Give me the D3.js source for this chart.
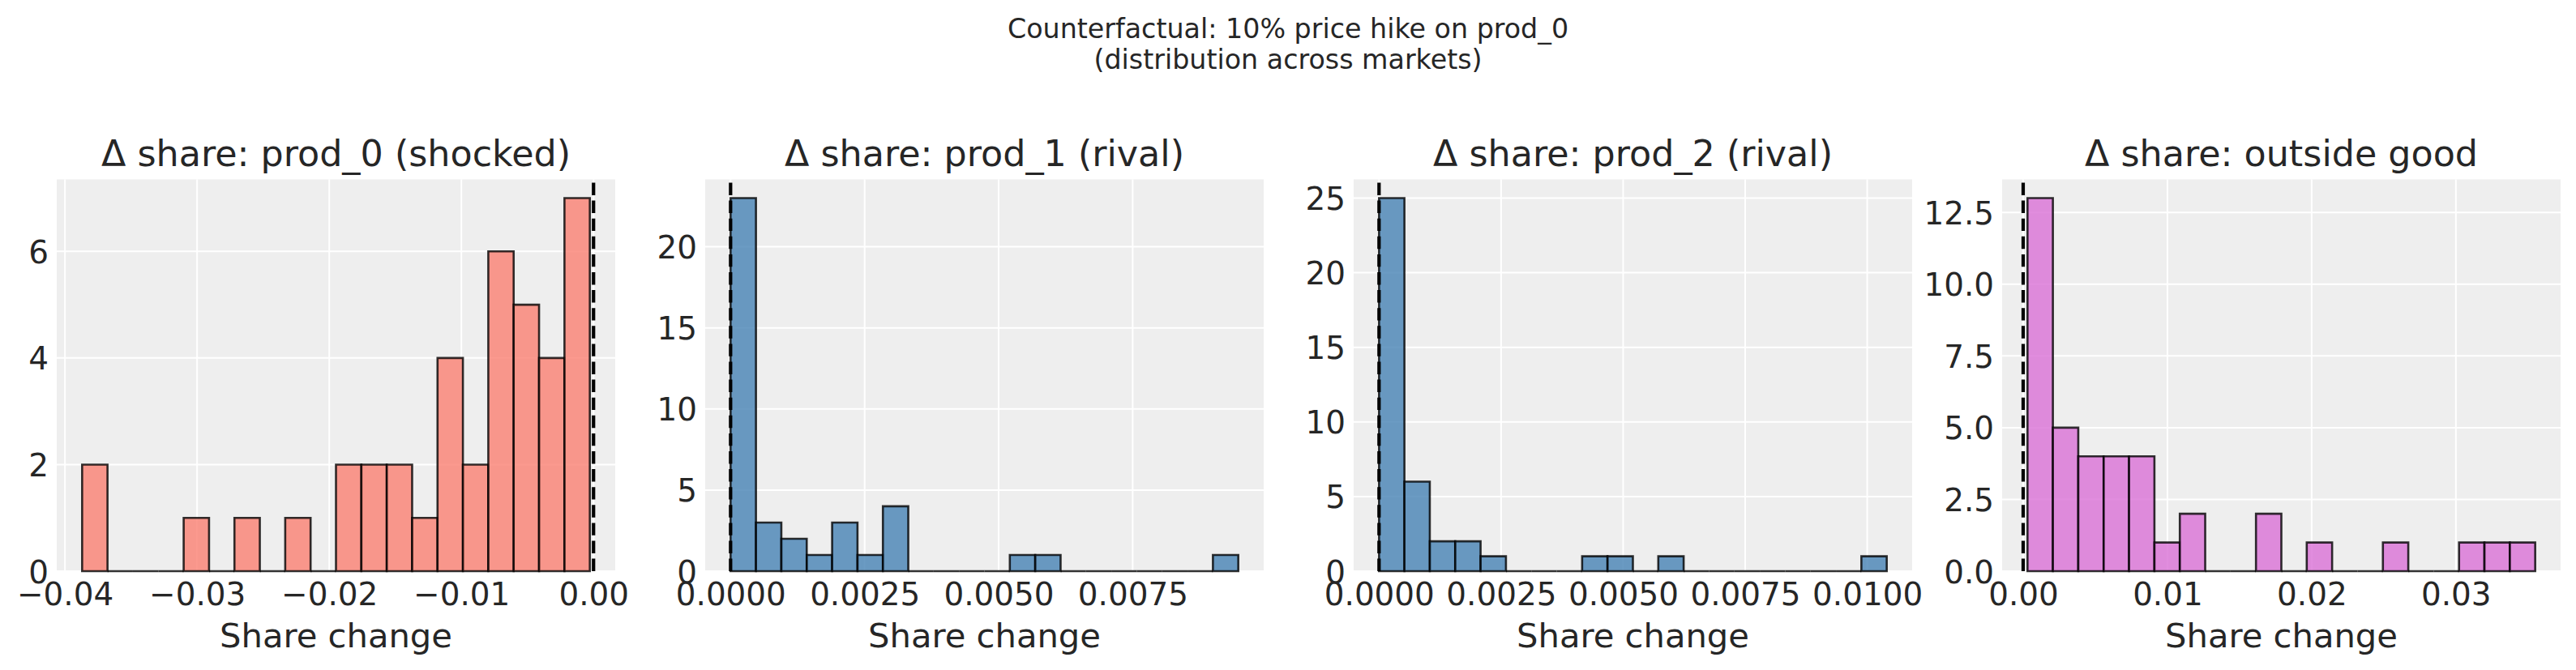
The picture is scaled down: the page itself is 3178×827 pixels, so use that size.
<!DOCTYPE html>
<html>
<head>
<meta charset="utf-8">
<script src="https://cdn.jsdelivr.net/npm/d3@7"></script>
<style>
  body { margin: 0; background: #fff; }
  text { font-family: "DejaVu Sans", sans-serif; fill: #262626; }
</style>
</head>
<body>
<svg id="chart"></svg>
<script>
// Figure text
var suptitle = ["Counterfactual: 10% price hike on prod_0", "(distribution across markets)"];
var titles = ["\u0394 share: prod_0 (shocked)", "\u0394 share: prod_1 (rival)",
              "\u0394 share: prod_2 (rival)", "\u0394 share: outside good"];
var xLabel = "Share change";
var colors = ["salmon", "steelblue", "steelblue", "orchid"];

// Histogram data: [min, max] of share change across markets, and 20 bin counts
var range0 = [-0.0387, -0.00028];
var counts0 = [2, 0, 0, 0, 1, 0, 1, 0, 1, 0, 2, 2, 2, 1, 4, 2, 6, 5, 4, 7];
var range1 = [0.0, 0.00947];
var counts1 = [23, 3, 2, 1, 3, 1, 4, 0, 0, 0, 0, 1, 1, 0, 0, 0, 0, 0, 0, 1];
var range2 = [0.0, 0.0104];
var counts2 = [25, 6, 2, 2, 1, 0, 0, 0, 1, 1, 0, 1, 0, 0, 0, 0, 0, 0, 0, 1];
var range3 = [0.0003, 0.0355];
var counts3 = [13, 5, 4, 4, 4, 1, 2, 0, 0, 2, 0, 1, 0, 0, 1, 0, 0, 1, 1, 1];

// Tick values
var xTicks0 = [-0.04, -0.03, -0.02, -0.01, 0.0];
var xTicks1 = [0, 0.0025, 0.005, 0.0075];
var xTicks2 = [0, 0.0025, 0.005, 0.0075, 0.01];
var xTicks3 = [0, 0.01, 0.02, 0.03];
var yTicks0 = [0, 2, 4, 6];
var yTicks1 = [0, 5, 10, 15, 20];
var yTicks2 = [0, 5, 10, 15, 20, 25];
var yTicks3 = [0, 2.5, 5, 7.5, 10, 12.5];

var panels = [
  { range: range0, counts: counts0, xt: xTicks0, yt: yTicks0, xf: ".2f", yf: "d" },
  { range: range1, counts: counts1, xt: xTicks1, yt: yTicks1, xf: ".4f", yf: "d" },
  { range: range2, counts: counts2, xt: xTicks2, yt: yTicks2, xf: ".4f", yf: "d" },
  { range: range3, counts: counts3, xt: xTicks3, yt: yTicks3, xf: ".2f", yf: ".1f" }
];

var W = 3178, H = 827;
var axTop = 221.5, axBottom = 705, axW = 689, axH = axBottom - axTop;
var tickSize = 38.9, labelSize = 41.7, titleSize = 44.4;

var svg = d3.select("#chart").attr("width", W).attr("height", H);
svg.append("rect").attr("width", W).attr("height", H).attr("fill", "#fff");

// suptitle
svg.append("g").selectAll("text")
  .data(suptitle)
  .join("text")
  .attr("x", W / 2)
  .attr("y", function (d, i) { return 47 + i * 38; })
  .attr("text-anchor", "middle")
  .attr("font-size", 33.3)
  .text(function (d) { return d; });

panels.forEach(function (p, i) {
  var left = 70 + i * 800;
  var lo = p.range[0], hi = p.range[1];
  var pad = 0.05 * (hi - lo);
  var nb = p.counts.length;
  var bw = (hi - lo) / nb;

  var x = d3.scaleLinear().domain([lo - pad, hi + pad]).range([left, left + axW]);
  var y = d3.scaleLinear().domain([0, d3.max(p.counts) * 1.05]).range([axBottom, axTop]);

  var g = svg.append("g");

  g.append("rect")
    .attr("x", left).attr("y", axTop)
    .attr("width", axW).attr("height", axH)
    .attr("fill", "#eeeeee");

  // grid
  g.append("g").selectAll("line")
    .data(p.xt)
    .join("line")
    .attr("x1", function (d) { return x(d); })
    .attr("x2", function (d) { return x(d); })
    .attr("y1", axTop).attr("y2", axBottom)
    .attr("stroke", "#fff").attr("stroke-width", 2);
  g.append("g").selectAll("line")
    .data(p.yt)
    .join("line")
    .attr("y1", function (d) { return y(d); })
    .attr("y2", function (d) { return y(d); })
    .attr("x1", left).attr("x2", left + axW)
    .attr("stroke", "#fff").attr("stroke-width", 2);

  // bars (paths so empty bins still show their edge)
  var bins = p.counts.map(function (c, k) {
    return { x0: lo + k * bw, x1: lo + (k + 1) * bw, n: c };
  });
  g.append("g").selectAll("path")
    .data(bins)
    .join("path")
    .attr("d", function (b) {
      var a = x(b.x0), c = x(b.x1), yb = y(0), yt = y(b.n);
      return "M" + a + "," + yb + "V" + yt + "H" + c + "V" + yb + "Z";
    })
    .attr("fill", colors[i]).attr("fill-opacity", 0.8)
    .attr("stroke", "#000").attr("stroke-opacity", 0.8)
    .attr("stroke-width", 2.6)
    .attr("stroke-linejoin", "miter");

  // reference line at zero
  g.append("line")
    .attr("x1", x(0)).attr("x2", x(0))
    .attr("y1", axBottom).attr("y2", axTop)
    .attr("stroke", "#000").attr("stroke-width", 4.2)
    .attr("stroke-dasharray", "15.4,6.7");

  // axes
  var xa = g.append("g")
    .attr("transform", "translate(0," + axBottom + ")")
    .call(d3.axisBottom(x).tickValues(p.xt).tickFormat(d3.format(p.xf))
      .tickSize(0).tickPadding(14));
  var ya = g.append("g")
    .attr("transform", "translate(" + left + ",0)")
    .call(d3.axisLeft(y).tickValues(p.yt).tickFormat(d3.format(p.yf))
      .tickSize(0).tickPadding(10));
  [xa, ya].forEach(function (a) {
    a.select(".domain").remove();
    a.selectAll("text")
      .attr("font-size", tickSize)
      .attr("font-family", "DejaVu Sans")
      .attr("fill", "#262626");
  });
  ya.selectAll("text").attr("dy", "0.36em");

  g.append("text")
    .attr("x", left + axW / 2).attr("y", 798.5)
    .attr("text-anchor", "middle")
    .attr("font-size", labelSize)
    .text(xLabel);

  g.append("text")
    .attr("x", left + axW / 2).attr("y", 205)
    .attr("text-anchor", "middle")
    .attr("font-size", titleSize)
    .text(titles[i]);
});
</script>
</body>
</html>
